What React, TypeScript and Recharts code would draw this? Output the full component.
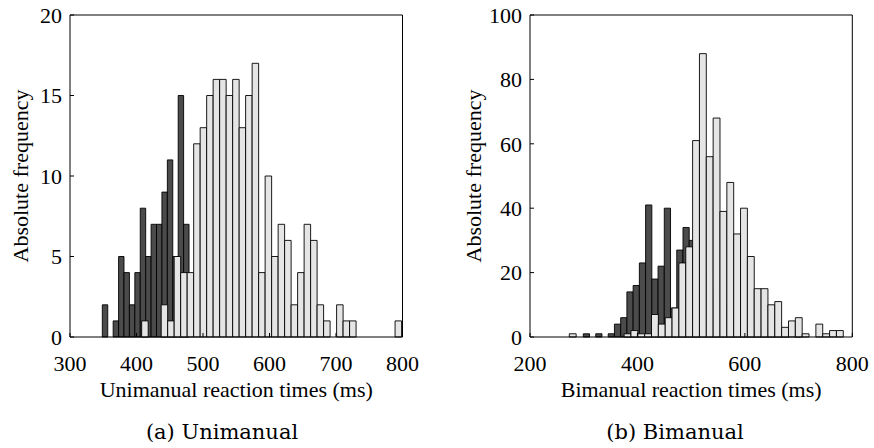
import React from 'react';
import { ComposedChart, XAxis, YAxis, ReferenceArea, Label } from 'recharts';

// unimanual histograms (bin start in ms, bin width in ms, counts)
const uniDarkStart = 348.6;
const uniDarkWidth = 8.15;
const uniDarkCounts = [2, 0, 1, 5, 4, 2, 4, 8, 5, 7, 7, 9, 11, 5, 15, 7];

const uniLightStart = 407.8;
const uniLightWidth = 9.77;
const uniLightCounts = [
  1, 0, 0, 2, 1, 5, 4, 4, 12, 13, 15, 16, 16, 15, 16, 13, 15, 17, 4, 10,
  5, 7, 6, 2, 4, 7, 6, 2, 1, 0, 2, 1, 1, 0, 0, 0, 0, 0, 0, 1,
];

// bimanual histograms
const biDarkStart = 299.2;
const biDarkWidth = 11.6;
const biDarkCounts = [
  1, 0, 1, 0, 1, 4, 6, 14, 16, 23, 41, 18, 22, 40, 9, 27, 34, 30, 25, 20,
  15, 12, 10, 8, 6, 5, 4, 3, 2, 2, 1, 1, 1, 0, 2,
];

const biLightStart = 273.2;
const biLightWidth = 12.75;
const biLightCounts = [
  1, 0, 0, 0, 0, 0, 0, 0, 1, 2, 1, 1, 7, 4, 6, 9, 23, 28, 61, 88,
  56, 68, 39, 48, 32, 40, 25, 15, 15, 10, 11, 3, 5, 6, 1, 0, 4, 1, 2, 2,
];

const uniXTicks = [300, 400, 500, 600, 700, 800];
const uniYTicks = [0, 5, 10, 15, 20];
const biXTicks = [200, 400, 600, 800];
const biYTicks = [0, 20, 40, 60, 80, 100];

const SERIF = '"Liberation Serif", "Times New Roman", serif';
const DARK = '#4b4b4b';
const LIGHT = '#e5e5e5';

type Bin = { x1: number; x2: number; mid: number; count: number };

const toBins = (counts: number[], start: number, width: number): Bin[] =>
  counts
    .map((count, i) => ({
      x1: start + i * width,
      x2: start + (i + 1) * width,
      mid: start + (i + 0.5) * width,
      count,
    }))
    .filter((b) => b.count > 0);

interface PanelProps {
  left: number;
  marginLeft: number;
  yAxisWidth: number;
  marginRight: number;
  xTicks: number[];
  yTicks: number[];
  xLabel: string;
  labelOffset: number;
  dark: Bin[];
  light: Bin[];
}

const Panel: React.FC<PanelProps> = ({
  left, marginLeft, yAxisWidth, marginRight, xTicks, yTicks, xLabel, labelOffset, dark, light,
}) => {
  const xDomain = [xTicks[0], xTicks[xTicks.length - 1]];
  const yDomain = [yTicks[0], yTicks[yTicks.length - 1]];
  const tickStyle = { fill: '#000', fontSize: 22, fontFamily: SERIF };

  const bar = (b: Bin, fill: string, key: string) => (
    <ReferenceArea
      key={key}
      xAxisId="b"
      yAxisId="l"
      x1={b.x1}
      x2={b.x2}
      y1={0}
      y2={b.count}
      fill={fill}
      fillOpacity={1}
      stroke="#000"
      strokeWidth={0.9}
      ifOverflow="visible"
    />
  );

  return (
    <div style={{ position: 'absolute', left, top: 0 }}>
      <ComposedChart
        width={437}
        height={448}
        data={[...dark, ...light]}
        margin={{ top: 11, right: marginRight, bottom: 51, left: marginLeft }}
      >
        <XAxis
          xAxisId="b"
          dataKey="mid"
          type="number"
          domain={xDomain}
          ticks={xTicks}
          allowDataOverflow
          height={60}
          tickSize={-4}
          tickMargin={22}
          stroke="#000"
          tick={tickStyle}
          interval={0}
        >
          <Label value={xLabel} position="insideBottom" offset={0} fill="#000" fontSize={22} fontFamily={SERIF} />
        </XAxis>
        <XAxis
          xAxisId="t"
          dataKey="mid"
          orientation="top"
          type="number"
          domain={xDomain}
          ticks={xTicks}
          allowDataOverflow
          height={4}
          tickSize={-4}
          stroke="#000"
          tick={false}
          interval={0}
        />
        <YAxis
          yAxisId="l"
          dataKey="count"
          type="number"
          domain={yDomain}
          ticks={yTicks}
          allowDataOverflow
          width={yAxisWidth}
          tickSize={-4}
          tickMargin={12}
          stroke="#000"
          tick={tickStyle}
          interval={0}
        >
          <Label
            value="Absolute frequency"
            angle={-90}
            position="insideLeft"
            offset={labelOffset}
            fill="#000"
            fontSize={22}
            fontFamily={SERIF}
            style={{ textAnchor: 'middle' }}
          />
        </YAxis>
        <YAxis
          yAxisId="r"
          dataKey="count"
          orientation="right"
          type="number"
          domain={yDomain}
          ticks={yTicks}
          allowDataOverflow
          width={10}
          tickSize={-4}
          stroke="#000"
          tick={false}
          interval={0}
        />
        {dark.map((b, i) => bar(b, DARK, `d${i}`))}
        {light.map((b, i) => bar(b, LIGHT, `l${i}`))}
      </ComposedChart>
    </div>
  );
};

const captionStyle: React.CSSProperties = {
  position: 'absolute',
  top: 420,
  width: 300,
  textAlign: 'center',
  fontFamily: '"DejaVu Serif", serif',
  fontSize: 21,
  color: '#000',
  whiteSpace: 'nowrap',
};

export default function App() {
  return (
    <div style={{ position: 'absolute', left: 0, top: 0, width: 874, height: 448, background: '#fff', overflow: 'hidden' }}>
      <Panel
        left={0}
        marginLeft={10}
        yAxisWidth={60}
        marginRight={24.5}
        xTicks={uniXTicks}
        yTicks={uniYTicks}
        xLabel="Unimanual reaction times (ms)"
        labelOffset={10}
        dark={toBins(uniDarkCounts, uniDarkStart, uniDarkWidth)}
        light={toBins(uniLightCounts, uniLightStart, uniLightWidth)}
      />
      <Panel
        left={437}
        marginLeft={23}
        yAxisWidth={70}
        marginRight={11.7}
        xTicks={biXTicks}
        yTicks={biYTicks}
        xLabel="Bimanual reaction times (ms)"
        labelOffset={13}
        dark={toBins(biDarkCounts, biDarkStart, biDarkWidth)}
        light={toBins(biLightCounts, biLightStart, biLightWidth)}
      />
      <div style={{ ...captionStyle, left: 222 - 150 }}>(a) Unimanual</div>
      <div style={{ ...captionStyle, left: 675 - 150 }}>(b) Bimanual</div>
    </div>
  );
}
